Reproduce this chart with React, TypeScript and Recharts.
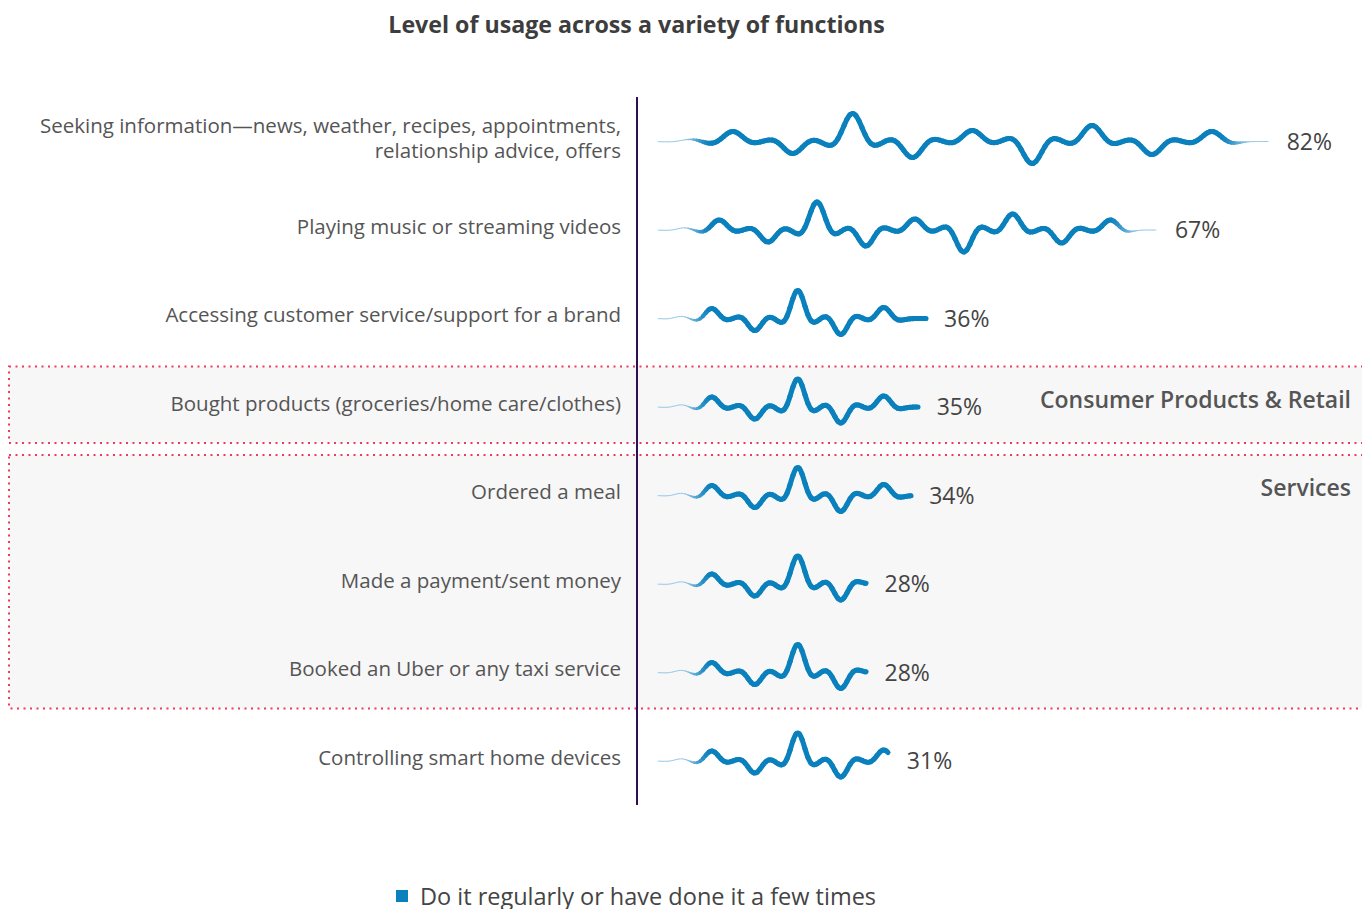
import { Bar, BarChart, LabelList, Legend, ReferenceArea, XAxis, YAxis } from 'recharts';

const categories = [
  'Seeking information\u2014news, weather, recipes, appointments,\nrelationship advice, offers',
  'Playing music or streaming videos',
  'Accessing customer service/support for a brand',
  'Bought products (groceries/home care/clothes)',
  'Ordered a meal',
  'Made a payment/sent money',
  'Booked an Uber or any taxi service',
  'Controlling smart home devices',
];
const usage = [82, 67, 36, 35, 34, 28, 28, 31];
const seriesName = 'Do it regularly or have done it a few times';

const groupNames = ['Consumer Products & Retail', 'Services'];
const groupFrom = [categories[3], categories[4]];
const groupTo = [categories[3], categories[6]];

const data = categories.map((category, i) => ({ category, value: usage[i] }));

const FONT = "'Open Sans', sans-serif";
const WAVE = '#0a80bd';
const TEXT = '#555555';

// decorative pulse pattern of the wave "bars" (px above the baseline)
const WAVE_AMPS = [10, -12, 28, -16, 11, -22, 16, -13, 10];

const pulse = (t: number) => Math.exp(-((t / 0.33) ** 2)) * Math.cos((2 * Math.PI * t) / 1.1);
const smooth = (t: number) => {
  const c = Math.max(0, Math.min(1, t));
  return c * c * (3 - 2 * c);
};
const mix = (a: number[], b: number[], f: number) =>
  `rgb(${a.map((v, i) => Math.round(v + (b[i] - v) * f)).join(',')})`;

function WaveBar(props: any) {
  const { x, y, width, height } = props;
  if (!width || width <= 0) return null;
  const cy = y + height / 2;
  const step = Math.min(60, Math.max(43, width / 10.2));
  const centers: number[] = [];
  for (let k = 0; k < WAVE_AMPS.length; k++) {
    const c = 1.25 * step + k * step;
    if (c > width - 0.1 * step) break;
    centers.push(c);
  }
  const offsetAt = (d: number) => {
    let v = 2.2 * pulse((d - 0.55 * step) / step);
    centers.forEach((c, k) => {
      v += WAVE_AMPS[k] * pulse((d - c) / step);
    });
    return v;
  };
  const taperEnd = width > 400;
  const weightAt = (d: number) => {
    const s = smooth((d - 24) / 32);
    const e = taperEnd ? smooth((width - d - 16) / 32) : 1;
    return Math.min(s, e);
  };

  const segs = [];
  const seg = 3;
  for (let d = 0; d < width; d += seg) {
    const end = Math.min(width, d + seg);
    let path = '';
    for (let p = d; p <= end + 0.001; p += 1) {
      const px = Math.min(p, end);
      path += `${p === d ? 'M' : 'L'}${(x + px).toFixed(2)},${(cy - offsetAt(px)).toFixed(2)}`;
    }
    const w = weightAt((d + end) / 2);
    segs.push(
      <path
        key={d}
        d={path}
        fill='none'
        stroke={mix([150, 200, 230], [10, 128, 189], w)}
        strokeWidth={0.9 + 4.2 * w}
        strokeLinecap='round'
        strokeLinejoin='round'
      />
    );
  }
  return <g>{segs}</g>;
}

function CategoryTick(props: any) {
  const { x, y, payload } = props;
  const lines = String(payload.value).split('\n');
  const fs = 20.5;
  const lh = 25;
  return (
    <text x={x} y={y} textAnchor='end' fontFamily={FONT} fontSize={fs} fill={TEXT}>
      {lines.map((line, i) => (
        <tspan key={i} x={x} dy={i === 0 ? `${0.35 - ((lines.length - 1) * lh) / 2 / fs - 0.15}em` : lh}>
          {line}
        </tspan>
      ))}
    </text>
  );
}

function GroupBand(name: string) {
  return (props: any) => {
    const { y, height } = props;
    return (
      <g>
        <rect
          x={9}
          y={y + 4}
          width={1370}
          height={height - 12}
          fill='#f7f7f7'
          stroke='#ef3b5f'
          strokeWidth={2}
          strokeDasharray='2 4.5'
        />
        <text x={1351} y={y + 45} textAnchor='end' fontFamily={FONT} fontSize={23} fontWeight={600} fill={TEXT}>
          {name}
        </text>
      </g>
    );
  };
}

function LegendContent(props: any) {
  const { payload } = props;
  return (
    <div style={{ display: 'flex', justifyContent: 'center', fontFamily: FONT, fontSize: 23.5, color: '#444' }}>
      {(payload || []).map((entry: any) => (
        <span key={entry.value} style={{ display: 'flex', alignItems: 'center' }}>
          <span style={{ width: 12, height: 12, background: entry.color, marginRight: 12 }} />
          {entry.value}
        </span>
      ))}
    </div>
  );
}

export default function App() {
  return (
    <div style={{ position: 'absolute', left: 0, top: 0, width: 1362, height: 909, overflow: 'hidden', background: '#fff' }}>
      <div
        style={{
          position: 'absolute',
          left: 0,
          top: 8,
          width: 1273,
          textAlign: 'center',
          fontFamily: FONT,
          fontSize: 23.2,
          fontWeight: 700,
          color: '#3d3d3d',
        }}
      >
        Level of usage across a variety of functions
      </div>
      <div style={{ position: 'absolute', left: 0, top: 0 }}>
        <BarChart
          width={1362}
          height={909}
          data={data}
          layout='vertical'
          margin={{ top: 97, right: 71, bottom: 104, left: 0 }}
          barCategoryGap={10}
        >
          {groupNames.map((name, i) => (
            <ReferenceArea
              key={name}
              y1={groupFrom[i]}
              y2={groupTo[i]}
              shape={GroupBand(name)}
              ifOverflow='visible'
            />
          ))}
          <XAxis type='number' domain={[0, 85]} hide padding={{ left: 21, right: 0 }} />
          <YAxis
            type='category'
            dataKey='category'
            width={637}
            interval={0}
            tickLine={false}
            tickSize={6}
            tickMargin={10}
            axisLine={{ stroke: '#2e0f4f', strokeWidth: 2 }}
            tick={<CategoryTick />}
          />
          <Legend
            layout='horizontal'
            verticalAlign='middle'
            align='center'
            content={<LegendContent />}
            wrapperStyle={{ top: 880, left: 0, width: 1272 }}
          />
          <Bar dataKey='value' name={seriesName} fill={WAVE} shape={WaveBar} isAnimationActive={false}>
            <LabelList
              dataKey='value'
              position='right'
              offset={18}
              formatter={(v: any) => `${v}%`}
              style={{ fontFamily: FONT, fontSize: 23, fill: '#444' }}
            />
          </Bar>
        </BarChart>
      </div>
    </div>
  );
}
